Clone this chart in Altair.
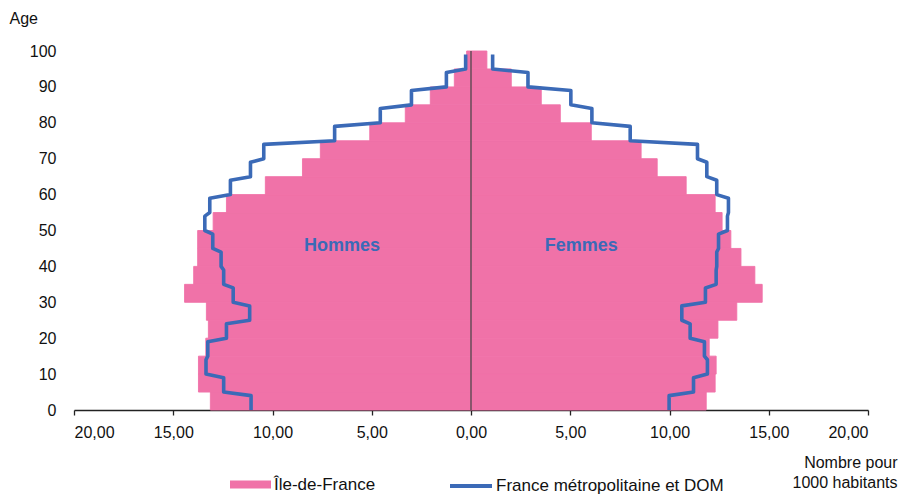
import altair as alt
import pandas as pd

# ---- data (per 1000 inhabitants, 5-year age bands) ----
age_debut = list(range(0, 100, 5))
idf_hommes = [13.13, 13.73, 13.73, 13.36, 13.23, 13.33, 14.43, 13.97, 13.77, 13.77,
              12.99, 12.32, 10.36, 8.49, 7.59, 5.10, 3.31, 2.05, 0.84, 0.22]
idf_femmes = [11.85, 12.30, 12.35, 12.00, 12.44, 13.39, 14.67, 14.30, 13.60, 13.09,
              12.65, 12.30, 10.84, 9.38, 8.57, 6.06, 4.50, 3.54, 2.03, 0.80]
fr_hommes = [11.08, 12.46, 13.35, 13.26, 12.32, 11.15, 11.98, 12.46, 12.59, 13.01,
             13.41, 13.16, 12.12, 11.11, 10.44, 6.87, 4.57, 3.00, 1.24, 0.27]
fr_femmes = [9.98, 11.21, 11.91, 11.76, 11.04, 10.62, 11.81, 12.35, 12.38, 12.47,
             12.92, 12.97, 12.38, 11.88, 11.41, 8.02, 6.09, 5.03, 2.87, 1.09]
sexes = ["Hommes", "Femmes"]
sexe_x = [-6.5, 5.55]
sexe_y = [45.8, 45.8]
x_ticks = [-20, -15, -10, -5, 0, 5, 10, 15, 20]
y_ticks = list(range(0, 101, 10))

PINK = "#F072A8"
BLUE = "#3B6AB7"
FONT = "Liberation Sans"
SERIE_IDF = "Île-de-France"
SERIE_FR = "France métropolitaine et DOM"

# ---- tables ----
bars = pd.DataFrame({
    "age": age_debut * 2,
    "age_fin": [a + 5 for a in age_debut] * 2,
    "zero": [0] * 40,
    "valeur": [-v for v in idf_hommes] + idf_femmes,
    "serie": [SERIE_IDF] * 40,
})

rows = []
for sexe, vals, sign in (("Hommes", fr_hommes, -1), ("Femmes", fr_femmes, 1)):
    for a, v in zip(age_debut, vals):
        rows.append({"sexe": sexe, "age": a, "valeur": sign * v, "serie": SERIE_FR})
        rows.append({"sexe": sexe, "age": a + 4, "valeur": sign * v, "serie": SERIE_FR})
lines = pd.DataFrame(rows)

axe0 = pd.DataFrame({"x": [0], "y": [0], "y2": [100]})
labels = pd.DataFrame({"texte": sexes, "x": sexe_x, "y": sexe_y})

xscale = alt.Scale(domain=[-20, 20], nice=False, zero=False)
yscale = alt.Scale(domain=[0, 100], nice=False)

XTITLE = ["Nombre pour", "1000 habitants"]
xaxis = alt.Axis(
    values=x_ticks, grid=False,
    labelExpr="replace(format(abs(datum.value), '.2f'), '.', ',')",
    labelFont=FONT, labelFontSize=16, labelColor="#111", labelPadding=9,
    domainColor="#222", domainWidth=1.3, tickColor="#222", tickWidth=1.3, tickSize=5,
    titleFont=FONT, titleFontSize=16,
    titleFontWeight="normal", titleColor="#111", titleAlign="right",
    titleBaseline="alphabetic", titleX=823, titleY=57, titleLineHeight=20,
)
yaxis = alt.Axis(
    values=y_ticks, grid=False, domain=False, ticks=False, tickSize=0,
    labelFont=FONT, labelFontSize=16, labelColor="#111", labelPadding=18,
    titleFont=FONT, titleFontSize=16, titleFontWeight="normal",
    titleColor="#111", titleAngle=0, titleAlign="left", titleBaseline="alphabetic",
    titleX=-65, titleY=-28,
)


def X(field):
    return alt.X(field, scale=xscale, axis=xaxis, title=XTITLE)


def Y(field):
    return alt.Y(field, scale=yscale, axis=yaxis, title="Age")


bar_layer = alt.Chart(bars).mark_rect(stroke=PINK, strokeWidth=0.9).encode(
    x=X("zero:Q"),
    x2="valeur:Q",
    y=Y("age:Q"),
    y2="age_fin:Q",
    fill=alt.Fill("serie:N", scale=alt.Scale(domain=[SERIE_IDF], range=[PINK]),
                  legend=alt.Legend(
                      title=None, orient="none", legendX=156, legendY=413,
                      direction="horizontal",
                      symbolType="M-1,-0.2H1V0.2H-1Z", symbolSize=1681,
                      symbolStrokeWidth=0, labelOffset=3, labelLimit=0,
                      labelFont=FONT, labelFontSize=17, labelColor="#111")),
)

rule_layer = alt.Chart(axe0).mark_rule(color="#444", strokeWidth=1.2).encode(
    x=X("x:Q"),
    y=Y("y:Q"),
    y2="y2:Q",
)

line_layer = alt.Chart(lines).mark_line(strokeWidth=3.6, strokeJoin="round").encode(
    x=X("valeur:Q"),
    y=Y("age:Q"),
    detail="sexe:N",
    order="age:Q",
    stroke=alt.Stroke("serie:N", scale=alt.Scale(domain=[SERIE_FR], range=[BLUE]),
                      legend=alt.Legend(
                          title=None, orient="none", legendX=374, legendY=412,
                          direction="horizontal",
                          symbolType="stroke", symbolSize=1764, symbolStrokeWidth=4,
                          labelOffset=2, labelLimit=0,
                          labelFont=FONT, labelFontSize=17, labelColor="#111")),
)

text_layer = alt.Chart(labels).mark_text(
    font=FONT, fontSize=18, fontWeight="bold", color=BLUE
).encode(
    x=X("x:Q"),
    y=Y("y:Q"),
    text="texte:N",
)

chart = alt.layer(bar_layer, rule_layer, line_layer, text_layer).resolve_scale(
    fill="independent", stroke="independent"
).properties(
    width=794, height=359,
    autosize=alt.AutoSizeParams(type="none"),
    padding={"left": 66, "top": 43, "right": 30, "bottom": 84},
    background="white",
).configure_view(stroke=None)

chart.save("out.html", embed_options={"renderer": "svg", "actions": False})
